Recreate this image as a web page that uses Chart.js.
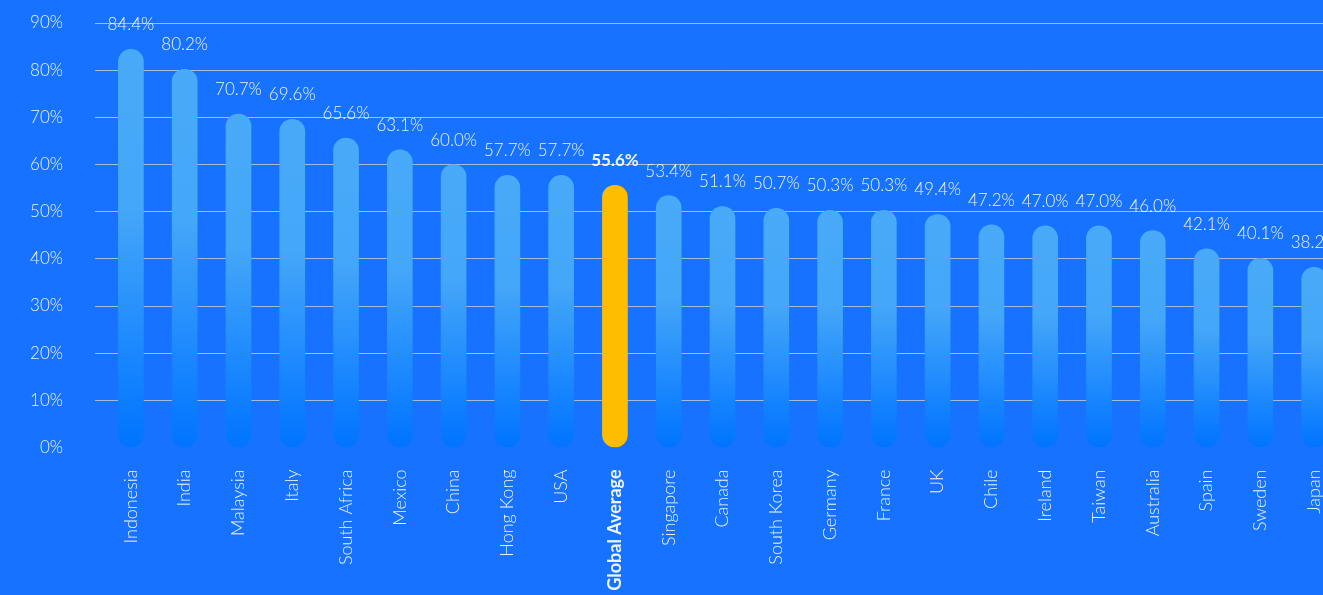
<!DOCTYPE html>
<html>
<head>
<meta charset="utf-8">
<script src="https://cdn.jsdelivr.net/npm/chart.js@4"></script>
<style>
    html, body { margin: 0; padding: 0; background: #1773ff; overflow: hidden; }
    .wrap { position: relative; width: 1341px; height: 595px; }
</style>
</head>
<body>
<div class="wrap"><canvas id="surveyChart"></canvas></div>
<script>
// Data
const countries = ['Indonesia', 'India', 'Malaysia', 'Italy', 'South Africa', 'Mexico', 'China', 'Hong Kong', 'USA',
    'Global Average', 'Singapore', 'Canada', 'South Korea', 'Germany', 'France', 'UK', 'Chile', 'Ireland',
    'Taiwan', 'Australia', 'Spain', 'Sweden', 'Japan'];
const shares = [84.4, 80.2, 70.7, 69.6, 65.6, 63.1, 60.0, 57.7, 57.7,
    55.6, 53.4, 51.1, 50.7, 50.3, 50.3, 49.4, 47.2, 47.0,
    47.0, 46.0, 42.1, 40.1, 38.2];
const yTicks = [0, 10, 20, 30, 40, 50, 60, 70, 80, 90];
const highlight = 'Global Average';

const fontFamily = 'Lato, "Open Sans", sans-serif';
const textColor = 'rgba(255, 255, 255, 0.92)';

// per-bar gradient, light on top and bright blue at the bottom
function barColor(context) {
    const chart = context.chart;
    if (countries[context.dataIndex] === highlight) return '#ffbd00';
    if (!chart.chartArea) return '#47a9f7';
    const yScale = chart.scales.y;
    const top = yScale.getPixelForValue(context.raw);
    const bottom = yScale.getPixelForValue(0);
    const g = chart.ctx.createLinearGradient(0, top, 0, bottom);
    g.addColorStop(0, '#48aaf8');
    g.addColorStop(0.4, '#45a7f8');
    g.addColorStop(0.8, '#1684ff');
    g.addColorStop(1, '#0074ff');
    return g;
}

// value labels above each bar
const valueLabels = {
    id: 'valueLabels',
    afterDatasetsDraw(chart) {
        const ctx = chart.ctx;
        const meta = chart.getDatasetMeta(0);
        ctx.save();
        ctx.fillStyle = textColor;
        ctx.textAlign = 'center';
        ctx.textBaseline = 'alphabetic';
        meta.data.forEach((bar, i) => {
            const bold = countries[i] === highlight;
            ctx.font = (bold ? 'bold ' : '300 ') + '17px ' + fontFamily;
            ctx.fillText(shares[i].toFixed(1) + '%', bar.x, bar.y - 19);
        });
        ctx.restore();
    }
};

const ctx = document.getElementById('surveyChart').getContext('2d');
const surveyChart = new Chart(ctx, {
    type: 'bar',
    data: {
        labels: countries,
        datasets: [{
            data: shares,
            backgroundColor: barColor,
            borderRadius: 13,
            borderSkipped: false,
            barThickness: 25
        }]
    },
    options: {
        responsive: true,
        maintainAspectRatio: false,
        animation: false,
        layout: { padding: { top: 23, right: 0, left: 0, bottom: 0 } },
        plugins: {
            legend: { display: false },
            tooltip: { enabled: false }
        },
        scales: {
            x: {
                grid: { display: false },
                border: { display: false },
                ticks: {
                    minRotation: 90,
                    maxRotation: 90,
                    autoSkip: false,
                    padding: 14,
                    color: textColor,
                    font: (c) => ({
                        family: fontFamily,
                        size: 18,
                        weight: countries[c.index] === highlight ? 'bold' : '300'
                    })
                },
                afterFit: (scale) => {
                    scale.height = 147.5;
                    scale.paddingTop = 0;
                    scale.paddingBottom = 0;
                    scale.paddingLeft = 0;
                    scale.paddingRight = 0;
                }
            },
            y: {
                min: 0,
                max: 90,
                afterBuildTicks: (scale) => { scale.ticks = yTicks.map(v => ({ value: v })); },
                grid: {
                    color: (c) => c.tick && c.tick.value === 0 ? 'rgba(0,0,0,0)' : 'rgba(195, 200, 212, 0.85)',
                    lineWidth: 1,
                    drawTicks: true,
                    tickLength: 9
                },
                border: { display: false },
                ticks: {
                    padding: 32,
                    color: textColor,
                    font: { family: fontFamily, size: 17, weight: '300' },
                    callback: (v) => v + '%'
                },
                afterFit: (scale) => {
                    scale.width = 104;
                    scale.paddingTop = 0;
                    scale.paddingBottom = 0;
                }
            }
        }
    },
    plugins: [valueLabels]
});
</script>
</body>
</html>
